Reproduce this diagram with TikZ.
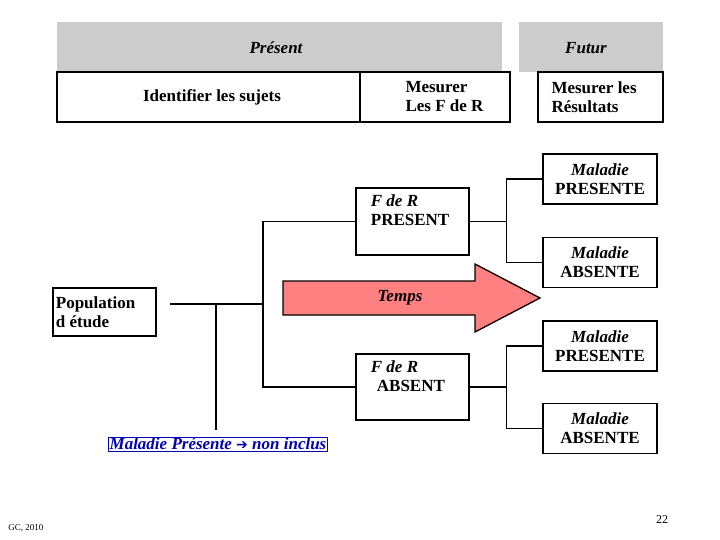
\documentclass[tikz,border=0pt]{standalone}
\usepackage{fontspec}
\setmainfont{Liberation Serif}
\newfontfamily\symfont{DejaVu Sans}
\usetikzlibrary{calc,shapes.arrows}

\begin{document}
\begin{tikzpicture}[x=1pt,y=-1pt,
  box/.style={draw=black,line width=1.3pt,fill=white,inner sep=0pt},
  lbl/.style={font=\fontsize{17}{19}\selectfont\bfseries,align=left},
  ln/.style={line width=1.5pt}]
  \useasboundingbox (0,0) rectangle (720,540);

  % Header bars
  \fill[gray!40] (57,22) rectangle (502,72);
  \fill[gray!40] (519,22) rectangle (663,72);
  \node[lbl] (pres) at (276,48) {\itshape Présent};
  \node[lbl] (fut) at (586,48) {\itshape Futur};
  \draw[box] (57,72) rectangle (360,122);
  \draw[box] (360,72) rectangle (510,122);
  \draw[box] (538,72) rectangle (663,122);
  \node[lbl] (ident) at (212,97) {Identifier les sujets};
  \node[lbl,anchor=west] (mfr) at (402,97) {Mesurer\\Les F de R};
  \node[lbl,anchor=west] (mres) at (548,97) {Mesurer les\\Résultats};

  % Boxes of the tree
  \node[box,minimum width=103pt,minimum height=48pt] (pop) at (104.5,312) {};
  \node[lbl,anchor=west] at (pop.west) {Population\\d étude};
  \node[box,minimum width=113pt,minimum height=67pt] (frp) at (412.5,221.5) {};
  \node[lbl,anchor=north west] at ($(frp.north west)+(12,4)$) {\itshape F de R\\PRESENT};
  \node[box,minimum width=113pt,minimum height=66pt] (fra) at (412.5,387) {};
  \node[lbl,anchor=north west] at ($(fra.north west)+(12,4)$) {\itshape F de R\\\hspace*{6pt}ABSENT};
  \foreach \n/\y/\t in {m1/179/PRESENTE,m2/262.5/ABSENTE,m3/346/PRESENTE,m4/428.5/ABSENTE}
    \node[box,minimum width=114pt,minimum height=50pt,lbl,align=center] (\n) at (600,\y) {\itshape Maladie\\\t};

  % Lines
  \coordinate (j0) at (170,304);
  \coordinate (j1) at (216,304);
  \coordinate (j2) at (263,304);
  \coordinate (jd) at (216,430);
  \draw[ln] (j0) -- (j2);
  \draw[ln] (j1) -- (jd);
  \draw[ln] (frp.west) -| (j2) |- (fra.west);
  \draw[ln] (frp.east) -- ++(37,0) coordinate (k1);
  \draw[ln] (m1.west) -| (k1) |- (m2.west);
  \draw[ln] (fra.east) -- ++(37,0) coordinate (k2);
  \draw[ln] (m3.west) -| (k2) |- (m4.west);

  % Arrow
  \draw[line width=1.3pt,fill=red!50] (283,281) -- (475,281) -- (475,264) -- (540,298)
    -- (475,332) -- (475,315) -- (283,315) -- cycle;
  \node[lbl] (temps) at (400,298) {\itshape Temps};

  % Excluded
  \node[draw=blue!70!black,fill=white,inner sep=1pt,font=\fontsize{17}{19}\selectfont\bfseries\itshape,text=blue!70!black] (excl) at (218,444) {Maladie Présente {\symfont\fontsize{14}{16}\selectfont ➔} non inclus};

  \node[font=\fontsize{9}{10}\selectfont] (gc) at (26,528) {GC, 2010};
  \node[font=\fontsize{12}{13}\selectfont] (num) at (662,520) {22};
\end{tikzpicture}
\end{document}
